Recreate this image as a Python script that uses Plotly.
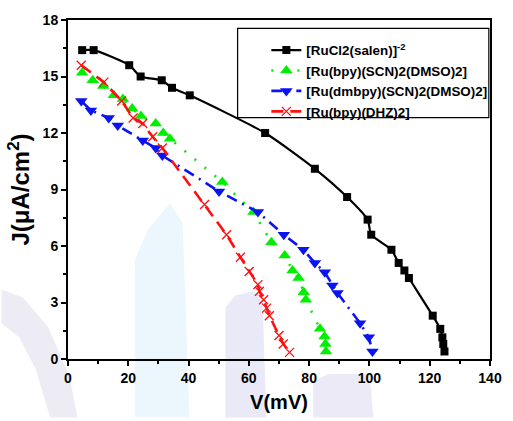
import plotly.graph_objects as go

# Photocurrent density vs. voltage for four Ru complexes
v_salen = [4.7, 8.5, 20.3, 24.1, 31.1, 34.5, 40.4, 65.4, 81.9, 92.6, 99.4, 100.6,
           107.3, 109.7, 111.6, 113.1, 121.0, 123.5, 124.2, 124.5, 124.9]
j_salen = [16.4, 16.4, 15.6, 15.0, 14.8, 14.4, 14.0, 12.0, 10.1, 8.6, 7.4, 6.6,
           5.8, 5.1, 4.7, 4.3, 2.3, 1.6, 1.15, 0.8, 0.4]

v_bpy_scn = [4.7, 8.2, 11.7, 15.2, 18.2, 21.3, 24.2, 29.1, 31.6, 33.8, 51.2, 61.5,
             67.5, 71.9, 74.5, 76.5, 78.2, 78.9, 83.6, 85.1, 85.4, 85.6]
j_bpy_scn = [15.2, 14.8, 14.5, 14.0, 13.8, 13.3, 12.9, 12.5, 12.0, 11.7, 9.4, 7.8,
             6.2, 5.5, 4.7, 4.3, 3.55, 3.15, 1.6, 1.2, 0.8, 0.4]

v_dmbpy = [4.4, 7.6, 13.5, 16.5, 24.8, 29.1, 31.3, 50.1, 63.0, 71.6, 78.1, 81.9,
           85.2, 87.7, 89.4, 96.9, 99.8, 101.0]
j_dmbpy = [13.7, 13.2, 12.8, 12.4, 11.6, 11.2, 10.8, 8.9, 7.8, 6.6, 5.8, 5.1,
           4.6, 3.9, 3.5, 1.9, 1.15, 0.4]

v_dhz = [4.4, 11.9, 17.8, 21.6, 24.8, 28.1, 31.3, 45.3, 52.6, 57.2, 60.1, 63.0,
         63.5, 64.9, 65.9, 66.8, 70.0, 71.4, 73.5]
j_dhz = [15.6, 14.7, 13.7, 12.8, 12.5, 11.8, 11.2, 8.2, 6.6, 5.4, 4.65, 3.95,
         3.6, 3.15, 2.7, 2.3, 1.25, 0.8, 0.35]

names = ["[RuCl2(salen)]<sup>-2</sup>", "[Ru(bpy)(SCN)2(DMSO)2]",
         "[Ru(dmbpy)(SCN)2(DMSO)2]", "[Ru(bpy)(DHZ)2]"]

x_ticks = [0, 20, 40, 60, 80, 100, 120, 140]
y_ticks = [0, 3, 6, 9, 12, 15, 18]

FONT = "Arial, Liberation Sans, sans-serif"

fig = go.Figure()
fig.add_trace(go.Scatter(
    x=v_salen, y=j_salen, name=names[0], mode="lines+markers",
    line=dict(color="#000000", width=2.2, shape="spline", smoothing=0.6),
    marker=dict(symbol="square", size=8, color="#000000")))
fig.add_trace(go.Scatter(
    x=v_bpy_scn, y=j_bpy_scn, name=names[1], mode="lines+markers",
    line=dict(color="#00ee00", width=2.6, dash="2px,11px"),
    marker=dict(symbol="triangle-up", size=11, color="#00ee00")))
fig.add_trace(go.Scatter(
    x=v_dmbpy, y=j_dmbpy, name=names[2], mode="lines+markers",
    line=dict(color="#0a14f0", width=2.6, dash="11px,6px,2px,6px"),
    marker=dict(symbol="triangle-down", size=11, color="#0a14f0")))
fig.add_trace(go.Scatter(
    x=v_dhz, y=j_dhz, name=names[3], mode="lines+markers",
    line=dict(color="#ff1010", width=2.6, dash="12px,7px"),
    marker=dict(symbol="x-thin-open", size=9,
                line=dict(color="#ff1010", width=1.3))))

# plot-area geometry in pixels, used to place the faint background artwork
L, R, T, B = 68.3, 501.7, 20.0, 362.0


def px(x):
    return (x - L) / (R - L)


def py(y):
    return (B - y) / (B - T)


def path(points):
    return "M " + " L ".join(f"{px(a):.4f},{py(b):.4f}" for a, b in points) + " Z"


def backdrop(points, color, opacity):
    return dict(type="path", xref="paper", yref="paper", path=path(points),
                fillcolor=color, line=dict(width=0), opacity=opacity,
                layer="below")


shapes = [
    backdrop([(137, 262), (150, 232), (173, 205), (186, 225), (193, 421),
              (137, 421)], "#d3eefa", 0.45),
    backdrop([(230, 310), (240, 298), (258, 294), (268, 300), (272, 421),
              (230, 421)], "#d6d3f2", 0.5),
    backdrop([(320, 385), (335, 377), (378, 377), (382, 421), (320, 421)],
             "#dad6f0", 0.5),
    backdrop([(0, 292), (22, 300), (48, 330), (70, 380), (78, 421), (50, 421),
              (35, 372), (18, 340), (0, 326)], "#d8d4e8", 0.45),
    # legend frame
    dict(type="rect", xref="paper", yref="paper",
         x0=px(242.5), x1=px(500.5), y0=py(118.5), y1=py(28.5),
         line=dict(color="#000000", width=1.2), fillcolor="rgba(0,0,0,0)",
         layer="above"),
]

axis_common = dict(
    showgrid=False, zeroline=False, showline=True, linecolor="#000000",
    linewidth=2, ticks="outside", tickcolor="#000000", tickwidth=2, ticklen=5,
    mirror=True,
    tickfont=dict(family=FONT, size=14, color="#000000", weight="bold"),
)

fig.update_layout(
    width=513, height=421,
    margin=dict(l=L, r=513 - R, t=T, b=421 - B),
    paper_bgcolor="#ffffff", plot_bgcolor="rgba(0,0,0,0)",
    shapes=shapes,
    showlegend=True,
    legend=dict(x=px(272), y=py(35), xanchor="left", yanchor="top",
                bgcolor="rgba(0,0,0,0)", borderwidth=0,
                font=dict(family=FONT, size=13.4, color="#000000", weight="bold"),
                tracegroupgap=0, itemwidth=30),
    xaxis=dict(range=[0, 140], tickvals=x_ticks,
               minor=dict(dtick=10, ticks="outside", ticklen=3, tickwidth=2,
                          tickcolor="#000000"),
               title=dict(text="V(mV)", standoff=10,
                          font=dict(family=FONT, size=20, color="#000000",
                                    weight="bold")),
               **axis_common),
    yaxis=dict(range=[0, 18], tickvals=y_ticks,
               minor=dict(dtick=1.5, ticks="outside", ticklen=3, tickwidth=2,
                          tickcolor="#000000"),
               title=dict(text="J(μA/cm<sup>2</sup>)", standoff=6,
                          font=dict(family=FONT, size=24, color="#000000",
                                    weight="bold")),
               **axis_common),
)

fig.write_html("out.html")
